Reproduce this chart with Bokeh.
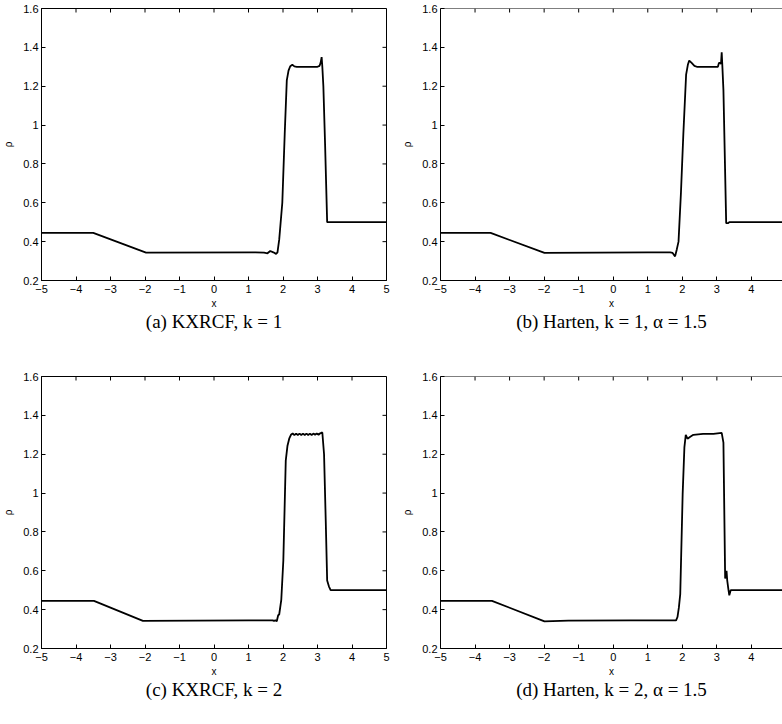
import math
from bokeh.plotting import figure
from bokeh.models import Range1d, LinearAxis, FixedTicker, Title, Span
from bokeh.layouts import column, row
from bokeh.embed import file_html
from bokeh.resources import INLINE

# ---- ticks ----
x_ticks = [-5, -4, -3, -2, -1, 0, 1, 2, 3, 4, 5]
x_tick_labels = ["−5", "−4", "−3", "−2", "−1", "0", "1", "2", "3", "4", "5"]
y_ticks = [0.2, 0.4, 0.6, 0.8, 1.0, 1.2, 1.4, 1.6]
y_tick_labels = ["0.2", "0.4", "0.6", "0.8", "1", "1.2", "1.4", "1.6"]

captions = ["(a) KXRCF, k = 1", "(b) Harten, k = 1, α = 1.5",
            "(c) KXRCF, k = 2", "(d) Harten, k = 2, α = 1.5"]

# ---- data (density rho vs x) ----
xa = [-5, -3.5, -1.97, 1.2, 1.45, 1.55, 1.63, 1.72, 1.8, 1.84, 1.89, 1.98, 2.05, 2.11,
      2.16, 2.21, 2.27, 2.33, 2.4, 2.7, 3.0, 3.06, 3.09, 3.12, 3.14, 3.17, 3.22, 3.28, 3.32, 5]
ya = [0.445, 0.445, 0.343, 0.345, 0.343, 0.34, 0.352, 0.345, 0.337, 0.345, 0.41, 0.6, 0.955, 1.23,
      1.28, 1.303, 1.31, 1.302, 1.30, 1.30, 1.30, 1.305, 1.32, 1.35, 1.30, 1.20, 0.9, 0.50, 0.50, 0.50]

xb = [-5, -3.55, -1.99, 1.0, 1.65, 1.72, 1.79, 1.84, 1.89, 1.96, 2.03, 2.11, 2.16, 2.2, 2.27,
      2.35, 2.42, 2.7, 3.03, 3.06, 3.1, 3.12, 3.14, 3.16, 3.19, 3.27, 3.33, 3.36, 5]
yb = [0.445, 0.445, 0.342, 0.345, 0.345, 0.342, 0.324, 0.36, 0.40, 0.65, 0.955, 1.26, 1.31, 1.332, 1.32,
      1.305, 1.30, 1.30, 1.30, 1.32, 1.32, 1.315, 1.375, 1.30, 1.18, 0.495, 0.495, 0.50, 0.50]

xc = [-5, -3.48, -2.06, 1.0, 1.7, 1.74, 1.78, 1.82, 1.86, 1.89, 1.95, 2.01, 2.08, 2.13, 2.18,
      2.23, 2.28, 2.33, 2.38, 2.43, 2.48, 2.53, 2.58, 2.63, 2.68, 2.73, 2.78, 2.83, 2.88, 2.93,
      2.98, 3.03, 3.08, 3.14, 3.19, 3.24, 3.28, 3.33, 3.38, 5]
yc = [0.445, 0.445, 0.342, 0.345, 0.345, 0.342, 0.345, 0.34, 0.371, 0.375, 0.45, 0.654, 1.167, 1.244, 1.28,
      1.30, 1.307, 1.298, 1.306, 1.299, 1.306, 1.299, 1.306, 1.299, 1.306, 1.299, 1.306, 1.299, 1.306, 1.30,
      1.306, 1.30, 1.308, 1.312, 1.20, 0.85, 0.55, 0.52, 0.50, 0.50]

xd = [-5, -3.51, -1.99, -1.3, 0.5, 1.82, 1.86, 1.9, 1.94, 2.01, 2.06, 2.1, 2.15, 2.23, 2.32,
      2.6, 2.9, 3.14, 3.19, 3.24, 3.26, 3.28, 3.3, 3.33, 3.36, 3.4, 5]
yd = [0.445, 0.445, 0.340, 0.343, 0.345, 0.345, 0.362, 0.41, 0.48, 0.996, 1.235, 1.30, 1.28, 1.29, 1.30,
      1.305, 1.305, 1.31, 1.26, 0.56, 0.58, 0.60, 0.55, 0.51, 0.474, 0.50, 0.50]

TICK_FONT = "Liberation Sans"
CAP_FONT = "Liberation Serif"


def make_panel(xs, ys, caption, width, height, bl, br, bt, bb, xend, full_box, cap_offset):
    ymin, ymax = y_ticks[0], y_ticks[-1]
    p = figure(width=width, height=height,
               x_range=Range1d(x_ticks[0], xend), y_range=Range1d(ymin, ymax),
               output_backend="svg", toolbar_location=None,
               x_axis_location=None, y_axis_location=None,
               min_border_left=bl, min_border_right=br,
               min_border_top=bt, min_border_bottom=bb,
               outline_line_color="black" if full_box else None,
               background_fill_color="white", border_fill_color="white")
    p.xgrid.visible = False
    p.ygrid.visible = False

    def style(ax):
        ax.major_tick_in = 4
        ax.major_tick_out = 0
        ax.minor_tick_in = 0
        ax.minor_tick_out = 0
        ax.axis_line_color = "black"
        ax.axis_line_width = 1
        ax.major_tick_line_color = "black"
        ax.major_label_text_font = TICK_FONT
        ax.major_label_text_font_size = "11px"
        ax.major_label_text_color = "black"
        ax.axis_label_text_font = TICK_FONT
        ax.axis_label_text_font_size = "10px"
        ax.axis_label_text_font_style = "normal"
        ax.axis_label_text_color = "black"

    xbot = LinearAxis(ticker=FixedTicker(ticks=x_ticks), axis_label="x",
                      major_label_overrides={t: l for t, l in zip(x_ticks, x_tick_labels)})
    style(xbot)
    xbot.major_label_standoff = 4
    xbot.axis_label_standoff = 2
    p.add_layout(xbot, "below")

    yl = LinearAxis(ticker=FixedTicker(ticks=y_ticks), axis_label="ρ",
                    major_label_overrides={t: l for t, l in zip(y_ticks, y_tick_labels)})
    style(yl)
    yl.major_label_standoff = 3
    yl.axis_label_standoff = 6
    p.add_layout(yl, "left")

    # top border (for the cropped panels) and inward ticks on top / right
    if not full_box:
        p.add_layout(Span(location=ymax, dimension="width", line_color="black", line_width=1))
    p.ray(x=x_ticks, y=[ymax] * len(x_ticks), length=4, length_units="screen",
          angle=-math.pi / 2, line_color="black", line_width=1)
    if full_box:
        p.ray(x=[x_ticks[-1]] * len(y_ticks), y=y_ticks, length=4, length_units="screen",
              angle=math.pi, line_color="black", line_width=1)

    cap = Title(text=caption, align="center", text_font=CAP_FONT,
                text_font_size="19px", text_font_style="normal",
                text_color="black", standoff=-6, offset=cap_offset)
    p.add_layout(cap, "below")

    p.line(xs, ys, line_color="black", line_width=1.8)
    return p


pa = make_panel(xa, ya, captions[0], 390, 362, 40, 4, 8, 82, 5, True, 8)
pb = make_panel(xb, yb, captions[1], 392, 362, 50, 0, 8, 82, 4.9, False, 0)
pc = make_panel(xc, yc, captions[2], 390, 362, 40, 4, 14, 76, 5, True, 8)
pd = make_panel(xd, yd, captions[3], 392, 362, 50, 0, 14, 76, 4.9, False, 0)

layout = column(row(pa, pb, spacing=0), row(pc, pd, spacing=0), spacing=0)

open("out.html", "w").write(file_html(layout, INLINE))
